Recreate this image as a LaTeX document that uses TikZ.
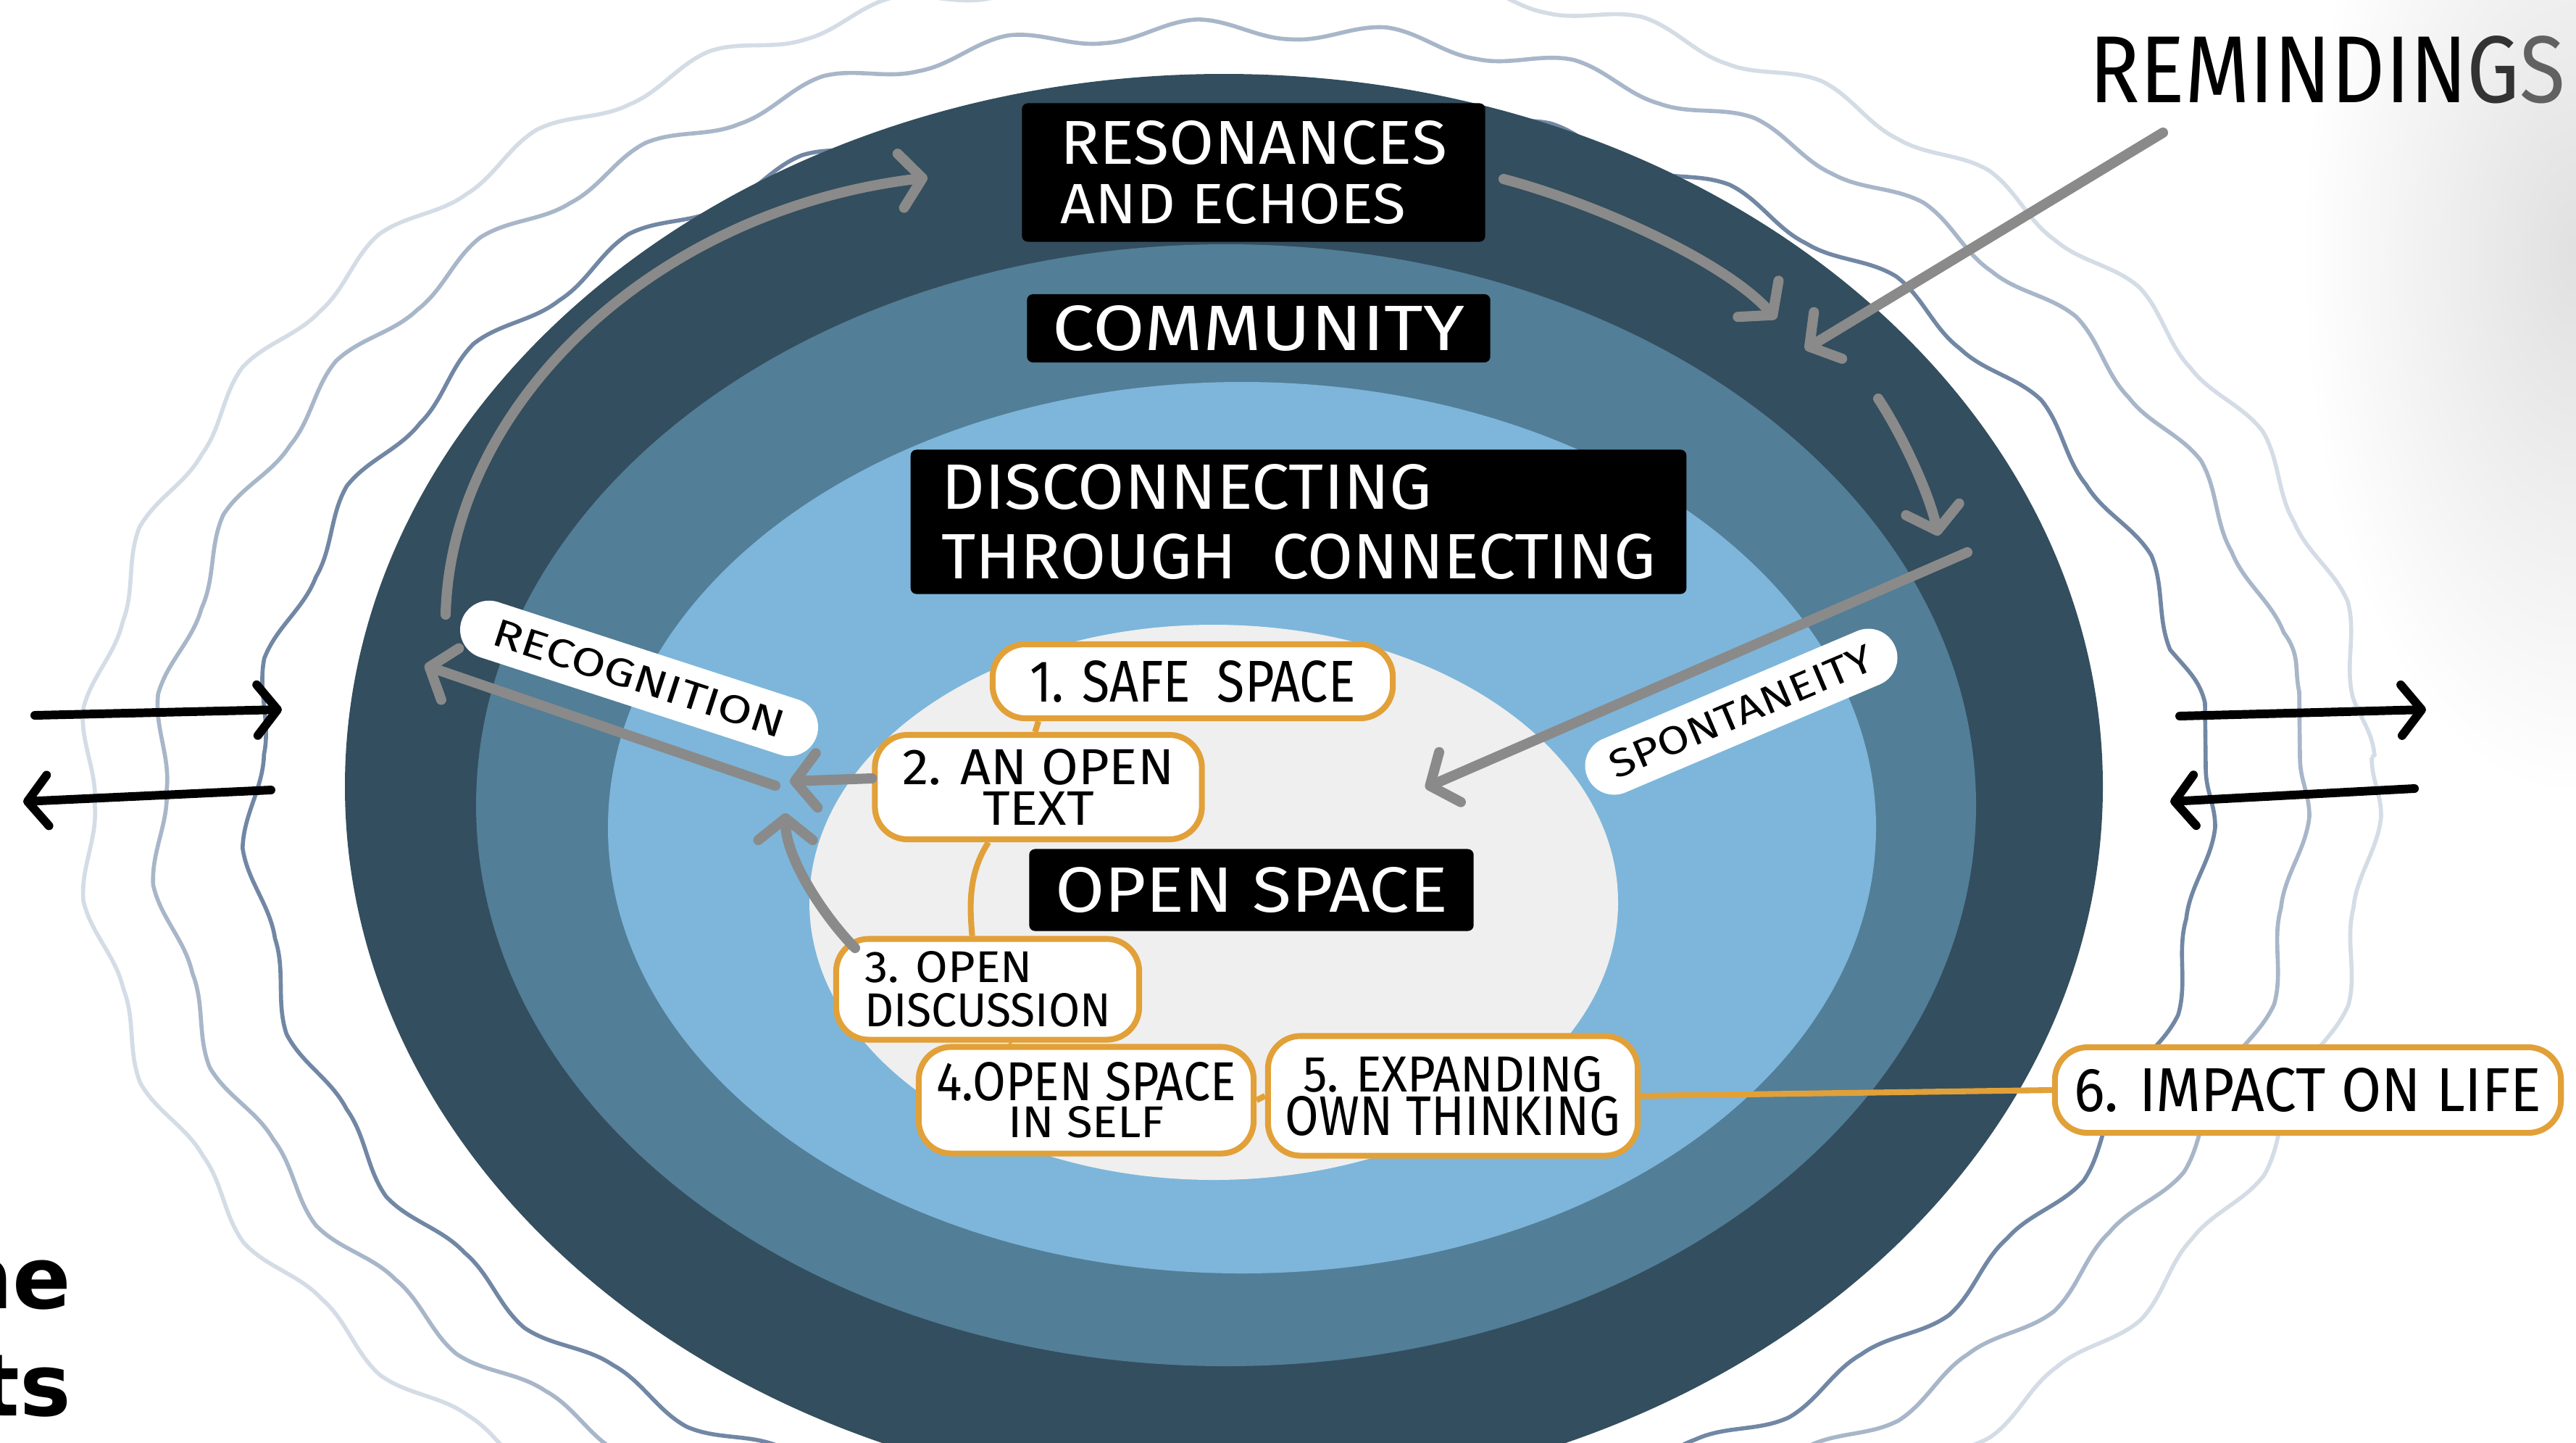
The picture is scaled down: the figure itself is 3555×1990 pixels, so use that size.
\documentclass[tikz,border=0pt]{standalone}
\usepackage{fontspec}
\usepackage{graphicx}
\newfontfamily\hand{Fira Sans}
\newfontfamily\slidefont{DejaVu Sans}
\usetikzlibrary{arrows.meta,decorations.pathmorphing,calc}

% one drawing unit = 0.01cm
\newdimen\pxu \pxu=0.01cm
% a line of lettering stretched to a given width and cap height
\newcommand\fitline[3]{\resizebox{#1\pxu}{#2\pxu}{#3}}

\definecolor{ringdark}{HTML}{334E5E}
\definecolor{ringmid}{HTML}{527E97}
\definecolor{ringlight}{HTML}{7DB6DA}
\definecolor{core}{HTML}{EFEFEF}
\definecolor{orng}{HTML}{E2A038}
\definecolor{arrowgray}{HTML}{8A8A8A}
\definecolor{waveA}{HTML}{7187A4}
\definecolor{waveB}{HTML}{A8B6C9}
\definecolor{waveC}{HTML}{D4DCE6}

\begin{document}
\begin{tikzpicture}[x=0.01cm, y=-0.01cm,
  wave/.style={line width=1.6pt, decorate,
    decoration={snake, amplitude=0.13cm, segment length=2.6cm}},
  blackbox/.style={fill=black, text=white, rounded corners=0.08cm,
    inner sep=0pt, align=left, font=\hand},
  pill/.style={draw=orng, line width=2.3pt, fill=white, rounded corners=0.45cm,
    inner sep=0pt, align=center, font=\hand},
  tag/.style={fill=white, rounded corners=0.4cm, inner sep=0pt, font=\hand},
  tie/.style={draw=orng, line width=2.3pt},
  garrow/.style={draw=arrowgray, line width=4pt, line cap=round,
    -{Straight Barb[round, length=0.3cm, width=0.75cm]}},
  barrow/.style={draw=black, line width=3.4pt, line cap=round,
    -{Straight Barb[round, length=0.28cm, width=0.7cm]}},
]
\useasboundingbox (0,0) rectangle (3555,1990);

% faint haze in the upper right corner
\shade[inner color=black!12, outer color=white] (3555,350) ellipse (380 and 750);

% ripples around the circles
\draw[wave, waveC] (1696,1045) ellipse (1577 and 1150);
\draw[wave, waveB] (1696,1045) ellipse (1478 and 1070);
\draw[wave, waveA] (1696,1060) ellipse (1348 and 996);

% nested circles
\fill[ringdark]  (1689,1085) ellipse (1213 and 983);
\fill[ringmid]   (1692,1111) ellipse (1035 and 774);
\fill[ringlight] (1714,1142) ellipse (875 and 615);
\fill[core]      (1675,1245) ellipse (558 and 383);

% ring titles
\node[blackbox, minimum width=6.39cm, minimum height=1.91cm,
  font=\hand\fontsize{20}{23.3}\selectfont] (reso) at (1730,238)
  {\fitline{534}{60}{RESONANCES}\\\fitline{477}{55}{AND ECHOES}};
\node[blackbox, minimum width=6.39cm, minimum height=0.94cm] (comm) at (1737,453)
  {\fitline{569}{62}{COMMUNITY}};
\node[blackbox, minimum width=10.7cm, minimum height=1.99cm,
  font=\hand\fontsize{20}{27.3}\selectfont] (disc) at (1792,720)
  {\fitline{677}{62}{DISCONNECTING}\\\fitline{985}{62}{THROUGH\ \ CONNECTING}};
\node[blackbox, minimum width=6.13cm, minimum height=1.13cm] (opensp) at (1727,1228)
  {\fitline{542}{62}{OPEN SPACE}};

% steps
\node[pill, minimum width=5.52cm, minimum height=1.02cm] (p1) at (1646,940)
  {\fitline{449}{57}{1. SAFE\ \ SPACE}};
\node[pill, minimum width=4.51cm, minimum height=1.44cm,
  font=\hand\fontsize{10}{15.9}\selectfont] (p2) at (1433,1086)
  {\fitline{375}{49}{2. AN OPEN}\\\fitline{154}{46}{TEXT}};
\node[pill, align=left, minimum width=4.18cm, minimum height=1.39cm,
  font=\hand\fontsize{10}{17.4}\selectfont] (p3) at (1363,1365)
  {\fitline{232}{43}{3. OPEN}\\\fitline{340}{46}{DISCUSSION}};
\node[pill, minimum width=4.62cm, minimum height=1.47cm,
  font=\hand\fontsize{10}{14.5}\selectfont] (p4) at (1499,1518)
  {\fitline{413}{53}{4.OPEN SPACE}\\\fitline{216}{43}{IN SELF}};
\node[pill, minimum width=5.1cm, minimum height=1.65cm,
  font=\hand\fontsize{10}{17.1}\selectfont] (p5) at (2005,1512)
  {\fitline{414}{49}{5. EXPANDING}\\\fitline{462}{54}{OWN THINKING}};
\node[pill, minimum width=6.98cm, minimum height=1.18cm] (p6) at (3185,1504)
  {\fitline{645}{60}{6. IMPACT ON LIFE}};

% links between the steps
\draw[tie] ($(p1.south west)!0.12!(p1.south east)$) -- ($(p2.north west)!0.49!(p2.north east)$);
\draw[tie] ($(p2.south west)!0.35!(p2.south east)$) .. controls (1336,1205) and (1338,1250)
  .. ($(p3.north west)!0.45!(p3.north east)$);
\draw[tie] ($(p3.south west)!0.57!(p3.south east)$) -- ($(p4.north west)!0.28!(p4.north east)$);
\draw[tie] (p4.east) -- (p5.west);
\draw[tie] (p5.east) -- (p6.west);

% slanted tags
\node[tag, rotate=-18, minimum width=5.15cm, minimum height=0.8cm] (recog) at (882,936)
  {\fitline{420}{38}{RECOGNITION}};
\node[tag, rotate=23, minimum width=4.61cm, minimum height=0.8cm] (spont) at (2403,982)
  {\fitline{390}{38}{SPONTANEITY}};

% outside label
\node[font=\hand, inner sep=0pt] (remind) at (3212,96)
  {\fitline{657}{92}{REMINDIN\textcolor{black!80}{G}\textcolor{black!62}{S}}};

% arrow end points
\coordinate (lcS) at (615,848);   \coordinate (lcE) at (1280,245);
\coordinate (topS) at (2075,247); \coordinate (topE) at (2451,440);
\coordinate (rtS) at (2592,550);  \coordinate (rtE) at (2675,739);
\coordinate (remS) at (2985,183); \coordinate (remE) at (2491,482);
\coordinate (spS) at (2715,762);  \coordinate (spE) at (1967,1087);
\coordinate (rcS) at (1070,1084); \coordinate (rcE) at (586,918);
\coordinate (t2E) at (1090,1078);
\coordinate (t3S) at (1180,1308); \coordinate (t3E) at (1084,1122);

% the cycle of grey arrows
\draw[garrow] (lcS) .. controls (622,560) and (900,290) .. (lcE);
\draw[garrow] (topS) .. controls (2200,280) and (2380,360) .. (topE);
\draw[garrow] (rtS) .. controls (2625,600) and (2662,680) .. (rtE);
\draw[garrow] (remS) -- (remE);
\draw[garrow] (spS) -- (spE);
\draw[garrow] (rcS) -- (rcE);
\draw[garrow] ($(p2.west)+(0,-12)$) -- (t2E);
\draw[garrow] (t3S) .. controls (1140,1268) and (1084,1185) .. (t3E);

% exchange arrows on both sides
\coordinate (blA) at (48,987);    \coordinate (blB) at (389,979);
\coordinate (blC) at (374,1090);  \coordinate (blD) at (32,1106);
\coordinate (brA) at (3008,988);  \coordinate (brB) at (3348,979);
\coordinate (brC) at (3332,1088); \coordinate (brD) at (2995,1106);
\draw[barrow] (blA) -- (blB);
\draw[barrow] (blC) -- (blD);
\draw[barrow] (brA) -- (brB);
\draw[barrow] (brC) -- (brD);

% title fragments at the lower left edge
\node[font=\slidefont\bfseries\fontsize{33.8}{40}\selectfont, anchor=base east,
  inner sep=0pt] (frag1) at (99,1805) {he};
\node[font=\slidefont\bfseries\fontsize{33.8}{40}\selectfont, anchor=base east,
  inner sep=0pt] (frag2) at (99,1953) {ts};
\end{tikzpicture}
\end{document}
